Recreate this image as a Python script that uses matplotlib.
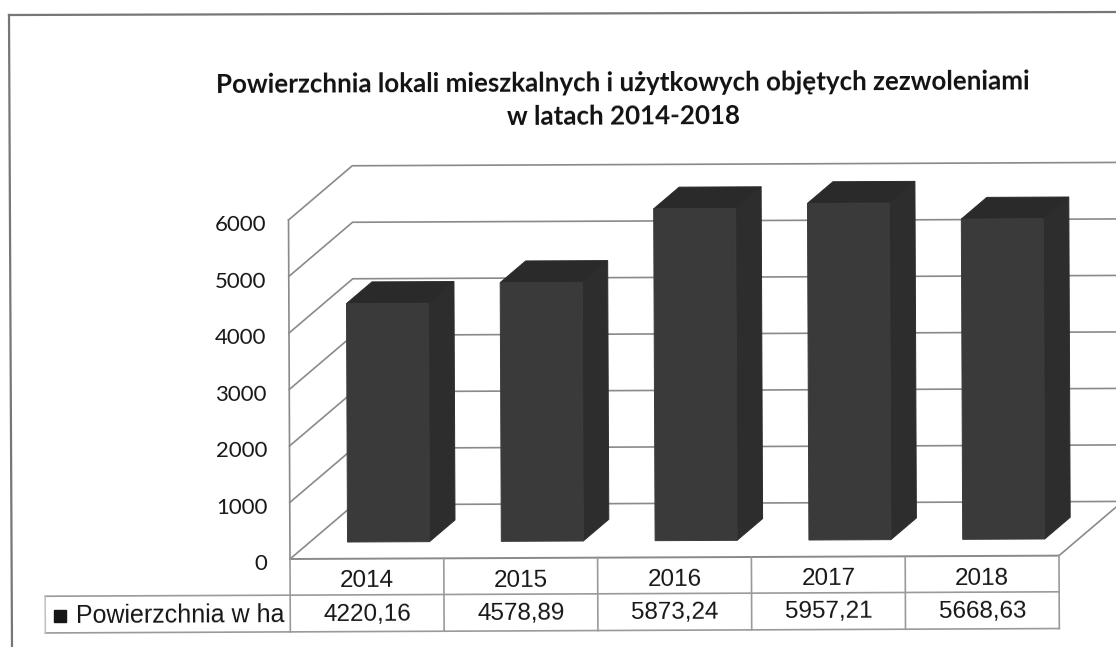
import matplotlib
matplotlib.use("Agg")
import matplotlib.pyplot as plt
from matplotlib.lines import Line2D
from matplotlib.transforms import Affine2D

lata = ["2014", "2015", "2016", "2017", "2018"]
powierzchnia = [4220.16, 4578.89, 5873.24, 5957.21, 5668.63]
etykiety = ["4220,16", "4578,89", "5873,24", "5957,21", "5668,63"]
os_y = [0, 1000, 2000, 3000, 4000, 5000, 6000]
tytul = "Powierzchnia lokali mieszkalnych i użytkowych objętych zezwoleniami\nw latach 2014-2018"
seria = "Powierzchnia w ha"

W, H = 1116, 647
szary = "#8a8a8a"

# oblique depth of the 3D box, in data units
DX = 0.416
DY = 955
SZER = 0.533
D0, D1 = 0.31, 0.71
PRZESUN = 0.012


def rzut(x, y, d=0.0):
    return x + DX * d, y + DY * d


fig = plt.figure(figsize=(W / 100, H / 100), dpi=100, facecolor="white")
ax = fig.add_axes([290 / W, (H - 559) / H, 769 / W, 339 / H])
ax.set_xlim(0, 5)
ax.set_ylim(0, 6000)
ax.axis("off")

# the page was scanned slightly crooked
KAT = 0.25
tr = ax.transData + Affine2D().rotate_deg_around(290, H - 559, KAT)


def linia(xs, ys, kolor=szary, lw=1.2, z=1):
    ax.plot(xs, ys, color=kolor, lw=lw, transform=tr, clip_on=False, zorder=z)


def napis(x, y, s, **kw):
    ax.text(x, y, s, transform=tr, rotation=KAT, rotation_mode="anchor",
            va="center", clip_on=False, color="#161616", **kw)


def sciana(p, kolor, z):
    ax.fill([q[0] for q in p], [q[1] for q in p], facecolor=kolor, edgecolor=kolor,
            lw=0.7, transform=tr, clip_on=False, zorder=z)


# grid on the side and back walls
for v in os_y:
    x1, y1 = rzut(0, v)
    x2, y2 = rzut(0, v, 1)
    x3, y3 = rzut(5, v, 1)
    linia([x1, x2, x3], [y1, y2, y3])
    napis(-0.145, v - 90, str(v), ha="right", family="Lato", fontsize=16)

# front edge of the floor and its right side
x1, y1 = rzut(5, 0)
x2, y2 = rzut(5, 0, 1)
linia([0, x1], [0, y1], lw=1.4)
linia([x1, x2], [y1, y2])
linia([0, 0], [0, 6000], lw=1.2)

# bars
for i, v in enumerate(powierzchnia):
    lewy = i + 0.5 - SZER / 2 + PRZESUN
    prawy = i + 0.5 + SZER / 2 + PRZESUN
    a = rzut(lewy, 0, D0)
    b = rzut(prawy, 0, D0)
    c = rzut(prawy, v, D0)
    d = rzut(lewy, v, D0)
    b2 = rzut(prawy, 0, D1)
    c2 = rzut(prawy, v, D1)
    d2 = rzut(lewy, v, D1)
    sciana([b, b2, c2, c], "#2d2d2d", 3)
    sciana([d, c, c2, d2], "#2a2a2a", 3)
    sciana([a, b, c, d], "#3a3a3a", 4)

# data table under the plot
Y_SRODEK = -640
Y_DOL = -1290
X_LEG = -1.593
for i in range(len(lata) + 1):
    linia([i, i], [0, Y_DOL], kolor="#9a9a9a")
linia([X_LEG, 5], [Y_SRODEK, Y_SRODEK], kolor="#9a9a9a")
linia([X_LEG, 5], [Y_DOL, Y_DOL], kolor="#9a9a9a")
linia([X_LEG, X_LEG], [Y_SRODEK, Y_DOL], kolor="#c4c4c4")

for i in range(len(lata)):
    napis(i + 0.5, -400, lata[i], ha="center", family="Liberation Sans", fontsize=17.5)
    napis(i + 0.5, -985, etykiety[i], ha="center", family="Liberation Sans", fontsize=17.5)
napis(-1.39, -985, seria, ha="left", family="Liberation Sans", fontsize=18)
ax.plot([-1.495], [-985], marker="s", ms=9, color="#161616", ls="none",
        transform=tr, clip_on=False)

# title
ax.text(2.18, 8100, tytul, transform=tr, rotation=KAT, rotation_mode="anchor",
        ha="center", va="center", family="Lato", fontweight="bold", fontsize=18.6,
        color="#111111", linespacing=1.48, clip_on=False)

# page frame
fig.add_artist(Line2D([9 / W, 12 / W], [1 - 15 / H, 0], color="#777777", lw=1.6))
fig.add_artist(Line2D([9 / W, 1], [1 - 15 / H, 1 - 12 / H], color="#777777", lw=1.6))

fig.savefig("out.png", dpi=100)
